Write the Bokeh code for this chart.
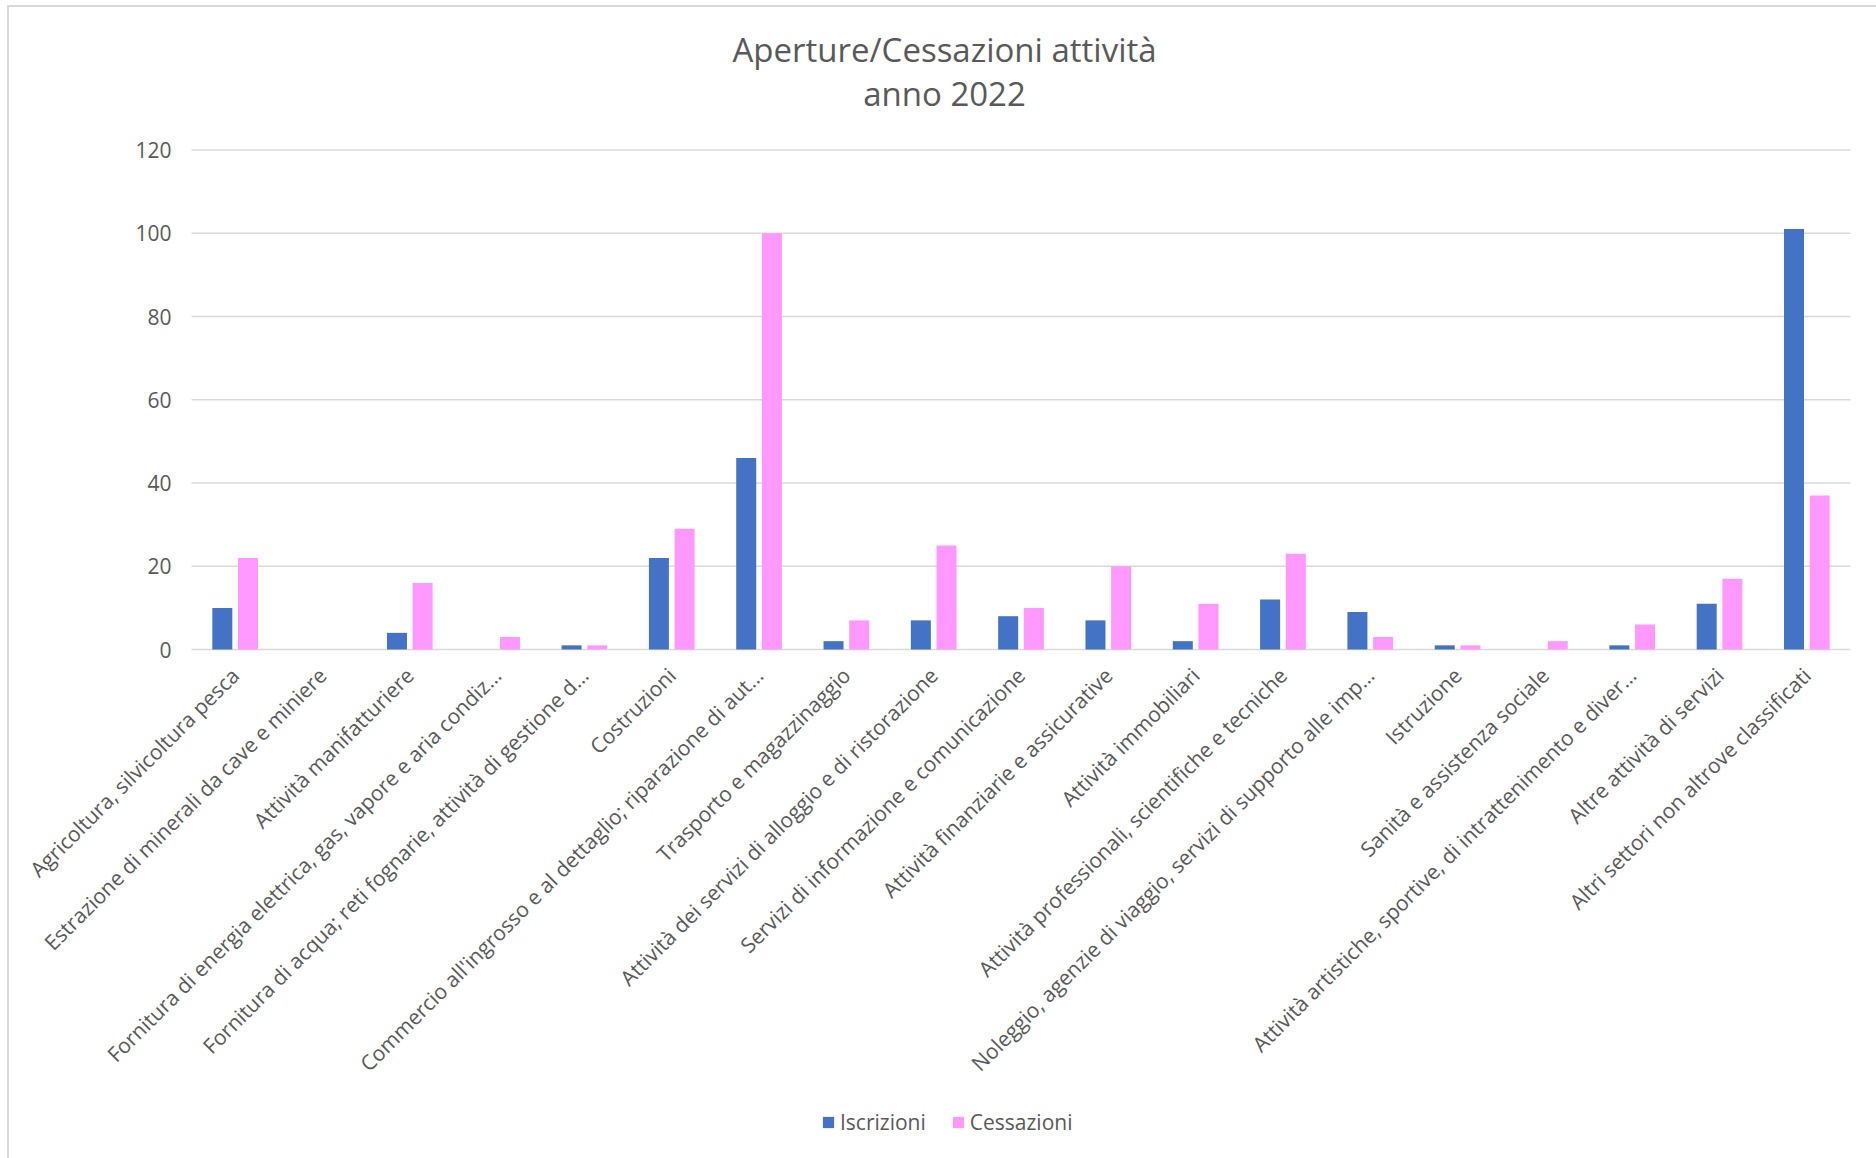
import math
from bokeh.plotting import figure
from bokeh.models import (ColumnDataSource, Range1d, Legend, LegendItem, Label)
from bokeh.core.properties import value
from bokeh.transform import dodge
from bokeh.embed import file_html
from bokeh.resources import INLINE

title_lines = ["Aperture/Cessazioni attività", "anno 2022"]
categories = [
    "Agricoltura, silvicoltura pesca",
    "Estrazione di minerali da cave e miniere",
    "Attività manifatturiere",
    "Fornitura di energia elettrica, gas, vapore e aria condiz…",
    "Fornitura di acqua; reti fognarie, attività di gestione d…",
    "Costruzioni",
    "Commercio all'ingrosso e al dettaglio; riparazione di aut…",
    "Trasporto e magazzinaggio",
    "Attività dei servizi di alloggio e di ristorazione",
    "Servizi di informazione e comunicazione",
    "Attività finanziarie e assicurative",
    "Attività immobiliari",
    "Attività professionali, scientifiche e tecniche",
    "Noleggio, agenzie di viaggio, servizi di supporto alle imp…",
    "Istruzione",
    "Sanità e assistenza sociale",
    "Attività artistiche, sportive, di intrattenimento e diver…",
    "Altre attività di servizi",
    "Altri settori non altrove classificati",
]
iscrizioni = [10, 0, 4, 0, 1, 22, 46, 2, 7, 8, 7, 2, 12, 9, 1, 0, 1, 11, 101]
cessazioni = [22, 0, 16, 3, 1, 29, 100, 7, 25, 10, 20, 11, 23, 3, 1, 2, 6, 17, 37]
y_ticks = [0, 20, 40, 60, 80, 100, 120]

TEXT = "#595959"
FONT = "Open Sans"
BLUE = "#4472C4"
PINK = "#FF99FF"
GRID = "#d9d9d9"

# layout in pixels: the drawing frame covers the whole chart area
FRAME_W, FRAME_H = 1867, 1151
PLOT_LEFT, PLOT_W, PLOT_RIGHT_PAD = 182, 1659, 26
PLOT_TOP, PLOT_H = 142.5, 499.5
N = len(categories)
PX_X = PLOT_W / N
PX_Y = PLOT_H / 120.0

xpos = [i + 0.5 for i in range(N)]
src = ColumnDataSource(dict(cat=categories, x=xpos, iscr=iscrizioni, cess=cessazioni))
grid_src = ColumnDataSource(dict(y=y_ticks, lab=[str(t) for t in y_ticks],
                                 x0=[0] * len(y_ticks), x1=[N] * len(y_ticks)))

p = figure(frame_width=FRAME_W, frame_height=FRAME_H,
           x_range=Range1d(-PLOT_LEFT / PX_X, N + PLOT_RIGHT_PAD / PX_X),
           y_range=Range1d(-(FRAME_H - PLOT_TOP - PLOT_H) / PX_Y, 120 + PLOT_TOP / PX_Y),
           output_backend="svg", toolbar_location=None, title=None,
           min_border=0)
p.styles = {"margin-left": "7px", "margin-top": "5px",
            "border-left": "2px solid #d9d9d9", "border-top": "2px solid #d9d9d9"}
p.outline_line_color = None
p.xaxis.visible = False
p.yaxis.visible = False
p.xgrid.visible = False
p.ygrid.visible = False

# horizontal gridlines (value axis)
p.segment(x0="x0", x1="x1", y0="y", y1="y", source=grid_src,
          line_color=GRID, line_width=1.5)
# value tick labels
p.text(x=0, y="y", text="lab", source=grid_src, x_offset=-20,
       text_align="right", text_baseline="middle",
       text_font=value(FONT), text_font_size="21px", text_color=TEXT)

bw = 0.229
r1 = p.vbar(x=dodge("x", -0.147), top="iscr", width=bw,
            source=src, fill_color=BLUE, line_color=None)
r2 = p.vbar(x=dodge("x", 0.147), top="cess", width=bw,
            source=src, fill_color=PINK, line_color=None)

# category labels (rotated 45 degrees, ending just below each category)
p.text(x="x", y=0, text="cat", source=src, angle=math.pi / 4,
       text_align="right", text_baseline="middle", y_offset=22,
       text_font=value(FONT), text_font_size="21px", text_color=TEXT)

# titles
p.add_layout(Label(x=935, y=FRAME_H - 41.8, x_units="screen", y_units="screen",
                   text=title_lines[0], text_align="center", text_baseline="middle",
                   text_font=FONT, text_font_size="33px", text_color=TEXT))
p.add_layout(Label(x=935, y=FRAME_H - 86.1, x_units="screen", y_units="screen",
                   text=title_lines[1], text_align="center", text_baseline="middle",
                   text_font=FONT, text_font_size="33px", text_color=TEXT))

legend = Legend(items=[LegendItem(label="Iscrizioni", renderers=[r1]),
                       LegendItem(label="Cessazioni", renderers=[r2])],
                orientation="horizontal", location=(812, 22),
                glyph_width=14, glyph_height=14, label_standoff=5, spacing=25,
                padding=10,
                label_text_font=FONT, label_text_font_size="21px",
                label_text_color=TEXT, border_line_color=None,
                background_fill_alpha=0, margin=0)
p.add_layout(legend, "center")

open("out.html", "w").write(file_html(p, INLINE))
